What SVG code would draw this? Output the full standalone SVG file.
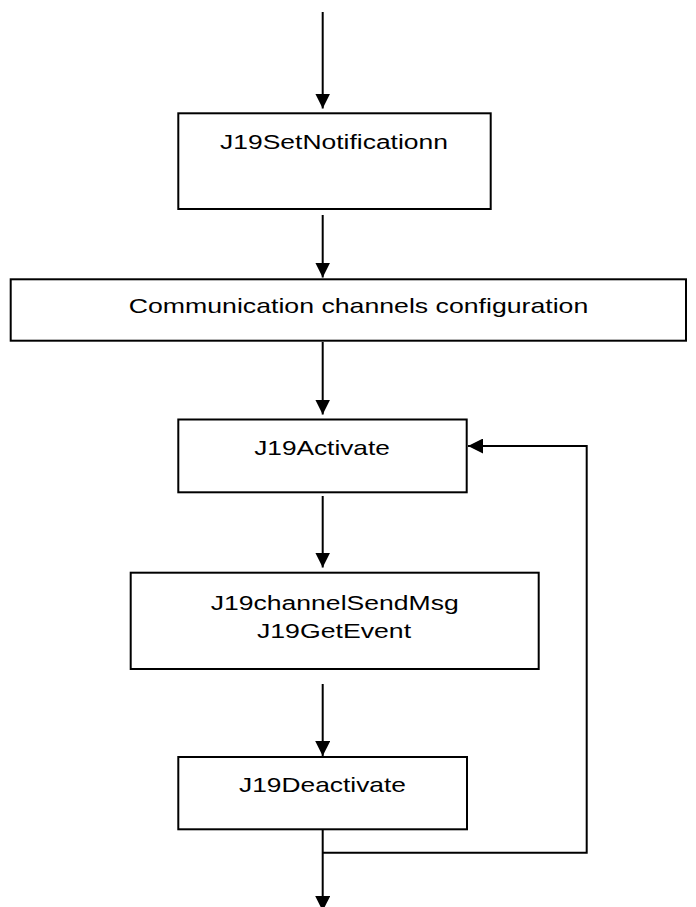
<svg xmlns="http://www.w3.org/2000/svg" width="696" height="907" viewBox="0 0 696 907">
<style>
.box{fill:#fff;stroke:#000;stroke-width:2}
.lbl{font-family:"Liberation Sans",Arial,sans-serif;font-size:21px;fill:#000;text-anchor:middle}
.con{fill:none;stroke:#000;stroke-width:2}
</style>
<defs>
<marker id="ah" markerUnits="userSpaceOnUse" markerWidth="15" markerHeight="15" refX="15" refY="7.5" orient="auto">
<path d="M0,0 L15,7.5 L0,15 z" fill="#000"/>
</marker>
</defs>
<g id="connectors">
<line class="con" x1="322.7" y1="12" x2="322.7" y2="108.5" marker-end="url(#ah)"/>
<line class="con" x1="322.7" y1="215" x2="322.7" y2="277.5" marker-end="url(#ah)"/>
<line class="con" x1="322.7" y1="342" x2="322.7" y2="414.5" marker-end="url(#ah)"/>
<line class="con" x1="322.7" y1="496" x2="322.7" y2="567.5" marker-end="url(#ah)"/>
<line class="con" x1="322.7" y1="684" x2="322.7" y2="756" marker-end="url(#ah)"/>
<line class="con" x1="322.7" y1="830" x2="322.7" y2="911" marker-end="url(#ah)"/>
<polyline class="con" points="322.7,852.7 586.7,852.7 586.7,446 468,446" marker-end="url(#ah)"/>
</g>
<g id="n1">
<rect class="box" x="178.3" y="113.3" width="312.4" height="95.7"/>
<text class="lbl" transform="translate(334,149.3) scale(1.26,1)">J19SetNotificationn</text>
</g>
<g id="n2">
<rect class="box" x="10.7" y="279.3" width="675.3" height="61.4"/>
<text class="lbl" transform="translate(358.5,313.3) scale(1.27,1)">Communication channels configuration</text>
</g>
<g id="n3">
<rect class="box" x="178.3" y="419.5" width="288.4" height="72.8"/>
<text class="lbl" transform="translate(322,455) scale(1.25,1)">J19Activate</text>
</g>
<g id="n4">
<rect class="box" x="130.7" y="572.7" width="408" height="96.3"/>
<text class="lbl" transform="translate(334.7,610) scale(1.265,1)">J19channelSendMsg</text>
<text class="lbl" transform="translate(334,638.3) scale(1.27,1)">J19GetEvent</text>
</g>
<g id="n5">
<rect class="box" x="178.3" y="757" width="288.7" height="72.3"/>
<text class="lbl" transform="translate(322.5,791.7) scale(1.255,1)">J19Deactivate</text>
</g>
</svg>
